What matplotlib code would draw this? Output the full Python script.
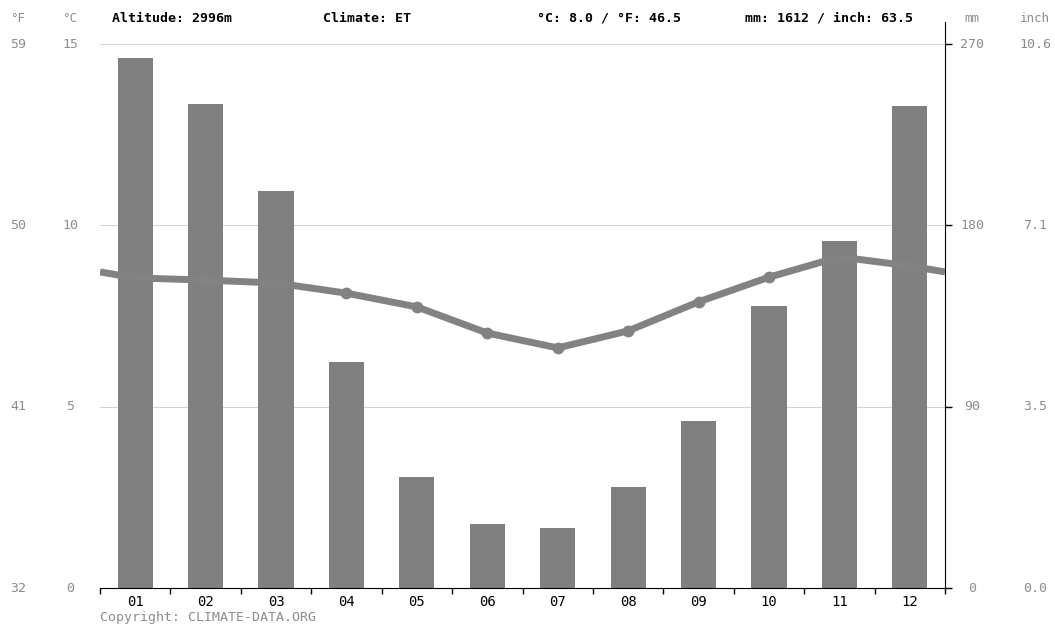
import matplotlib.pyplot as plt
from matplotlib import transforms
import numpy as np

months = ["01", "02", "03", "04", "05", "06", "07", "08", "09", "10", "11", "12"]
temp_c = [8.55, 8.49, 8.41, 8.13, 7.75, 7.03, 6.62, 7.09, 7.89, 8.57, 9.13, 8.88]
precip_mm = [263, 240, 197, 112, 55, 32, 30, 50, 83, 140, 172, 239]

temp_ticks_c = [0, 5, 10, 15]
temp_ticks_f = ["32", "41", "50", "59"]
precip_ticks_mm = ["0", "90", "180", "270"]
precip_ticks_in = ["0.0", "3.5", "7.1", "10.6"]

header = ["Altitude: 2996m", "Climate: ET", "°C: 8.0 / °F: 46.5", "mm: 1612 / inch: 63.5"]
header_x = [112, 323, 537, 745]

W, H = 1055, 626
FONT = "DejaVu Sans Mono"
GREY_TXT = "#8c8c8c"
BAR_C = "#808080"
LINE_C = "#828282"

fig = plt.figure(figsize=(W / 100, H / 100), dpi=100)
ax = fig.add_axes([100 / W, 1 - 588 / H, 845 / W, 544 / H])
ax2 = ax.twinx()

x = np.arange(12) + 0.5

# precipitation bars
ax.bar(x, precip_mm, width=0.5, color=BAR_C, zorder=2)
ax.set_ylim(0, 270)
ax.set_xlim(0, 12)

# grid lines behind the bars
for mm in precip_ticks_mm[1:]:
    ax.axhline(float(mm), color="#d2d2d2", lw=0.7, zorder=1)

# temperature line, wrapped to the edges
edge = (temp_c[0] + temp_c[-1]) / 2
lx = np.concatenate([[0], x, [12]])
ly = np.concatenate([[edge], temp_c, [edge]])
ax2.plot(lx, ly, color=LINE_C, lw=5, solid_capstyle="butt", zorder=3)
ax2.plot(x, temp_c, "o", color=LINE_C, ms=7.5, zorder=4)
ax2.set_ylim(0, 15)

for a in (ax, ax2):
    for s in ("top", "left"):
        a.spines[s].set_visible(False)
ax.spines["right"].set_visible(False)
ax2.spines["bottom"].set_visible(False)
ax2.spines["right"].set_color("black")
ax2.spines["right"].set_bounds(0, 15.6)
ax.spines["bottom"].set_color("black")

ax.set_xticks(np.arange(13))
ax.set_xticklabels([])
ax.tick_params(axis="x", length=4, direction="out", width=1)
ax.set_xticks(x, minor=True)
ax.set_xticklabels(months, minor=True, fontsize=10, family=FONT)
ax.tick_params(axis="x", which="minor", length=0, pad=5)
ax.set_yticks([])
ax2.set_yticks(temp_ticks_c)
ax2.set_yticklabels([])
ax2.tick_params(axis="y", length=5, direction="out", width=1)

# axis labels as text columns
tr = transforms.blended_transform_factory(fig.transFigure, ax2.transData)
for t, f, mm, inch in zip(temp_ticks_c, temp_ticks_f, precip_ticks_mm, precip_ticks_in):
    fig.text(18 / W, t, f, transform=tr, ha="center", va="center",
             fontsize=9.5, color=GREY_TXT, family=FONT)
    fig.text(70 / W, t, str(t), transform=tr, ha="center", va="center",
             fontsize=9.5, color=GREY_TXT, family=FONT)
    fig.text(972 / W, t, mm, transform=tr, ha="center", va="center",
             fontsize=9.5, color=GREY_TXT, family=FONT)
    fig.text(1035 / W, t, inch, transform=tr, ha="center", va="center",
             fontsize=9.5, color=GREY_TXT, family=FONT)

top_y = 1 - 18 / H
for lbl, px in [("°F", 18), ("°C", 70), ("mm", 972), ("inch", 1035)]:
    fig.text(px / W, top_y, lbl, ha="center", va="center",
             fontsize=9, color=GREY_TXT, family=FONT)
for lbl, px in zip(header, header_x):
    fig.text(px / W, top_y, lbl, ha="left", va="center",
             fontsize=9.5, color="black", family=FONT, fontweight="bold")

fig.text(100 / W, 1 - 618 / H, "Copyright: CLIMATE-DATA.ORG", ha="left", va="center",
         fontsize=9.5, color=GREY_TXT, family=FONT)

fig.savefig("out.png", dpi=100)
plt.close(fig)
